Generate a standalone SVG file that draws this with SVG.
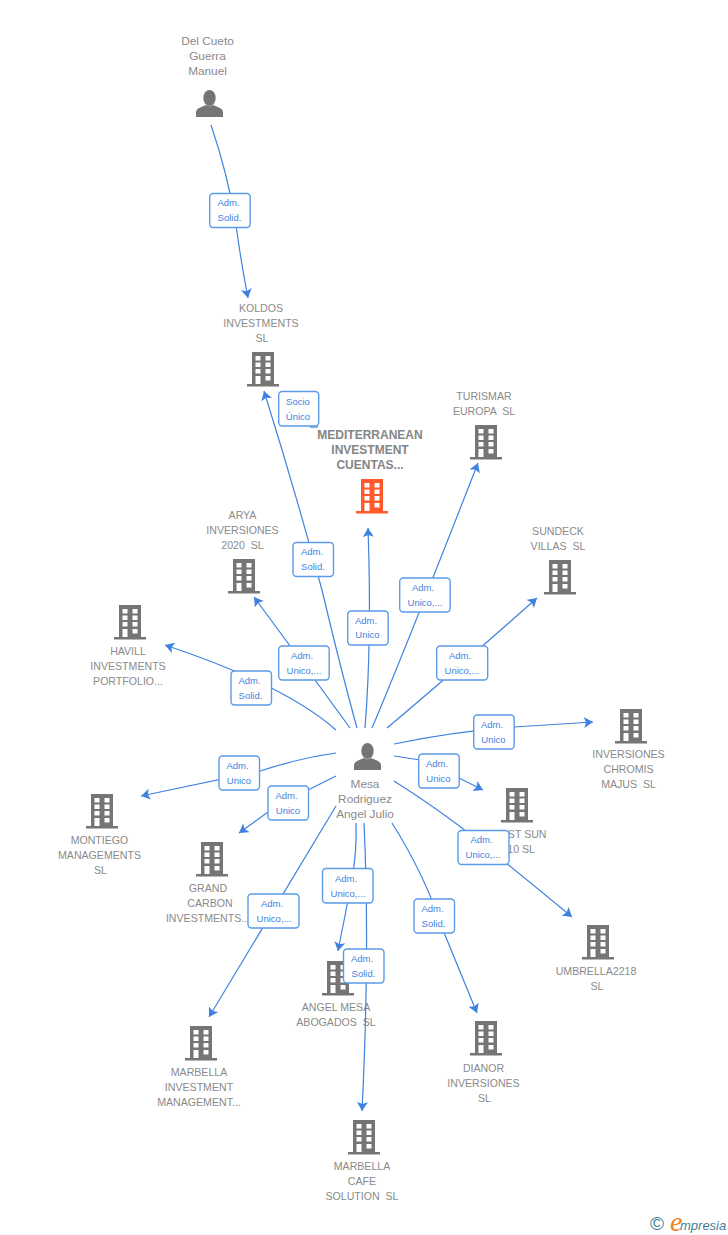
<svg xmlns="http://www.w3.org/2000/svg" width="728" height="1235" viewBox="0 0 728 1235">
<style>
text{font-family:"Liberation Sans",Arial,sans-serif;white-space:pre}
.n{font-size:10.6px;fill:#8a8a8a;text-anchor:middle}
.p{font-size:11.8px;fill:#8a8a8a;text-anchor:middle}
.t{font-size:12px;font-weight:bold;fill:#858585;text-anchor:middle}
.e{text-anchor:end}
.c{fill:none;stroke:#3f82e0;stroke-width:1.2;marker-end:url(#a)}
.s{fill:none;stroke:#3f82e0;stroke-width:1.2}
.b{fill:#fff;stroke:#5b9be8;stroke-width:1.4}
.l{font-size:9.5px;fill:#3f82e0;text-anchor:middle}
</style>
<defs>
<marker id="a" markerUnits="userSpaceOnUse" markerWidth="12" markerHeight="13" refX="9" refY="5.500" orient="auto"><path d="M0 0L9 5.500L0 11L2 5.500Z" fill="#3f82e0"/></marker>
<symbol id="bld" overflow="visible"><path fill-rule="evenodd" d="M0 0H22V32H27V34.500H-5V32H0ZM3.500 4V8.500H8.500V4ZM13.500 4V8.500H18.500V4ZM3.500 10.500V15H8.500V10.500ZM13.500 10.500V15H18.500V10.500ZM3.500 17V21.500H8.500V17ZM13.500 17V21.500H18.500V17ZM3.500 24V32H8.500V24ZM13.500 24V28.500H18.500V24Z"/></symbol>
<symbol id="per" overflow="visible"><ellipse cx="13.500" cy="8" rx="6.200" ry="8"/><path d="M0 27V22.500Q0 19 4 17.500L10 15Q13.500 17.500 17 15L23 17.500Q27 19 27 22.500V27Z"/></symbol>
</defs>
<g id="node-del-cueto"><use href="#per" x="196" y="90" fill="#757575"/><text class="p" x="207.500" y="45">Del Cueto</text><text class="p" x="207.500" y="60">Guerra</text><text class="p" x="207.500" y="75">Manuel</text></g>
<g id="node-koldos"><use href="#bld" x="252" y="352" fill="#757575"/><text class="n" x="261" y="312">KOLDOS</text><text class="n" x="261" y="327">INVESTMENTS</text><text class="n" x="262" y="342">SL</text></g>
<g id="node-mediterranean"><use href="#bld" x="361" y="479" fill="#ff5a2b"/><text class="t" x="370" y="439">MEDITERRANEAN</text><text class="t" x="370" y="454">INVESTMENT</text><text class="t" x="370" y="469">CUENTAS...</text></g>
<g id="node-turismar"><use href="#bld" x="475" y="425" fill="#757575"/><text class="n" x="484" y="400">TURISMAR</text><text class="n" x="484" y="415">EUROPA  SL</text></g>
<g id="node-sundeck"><use href="#bld" x="549" y="560" fill="#757575"/><text class="n" x="558" y="535">SUNDECK</text><text class="n" x="558" y="550">VILLAS  SL</text></g>
<g id="node-arya"><use href="#bld" x="233" y="559" fill="#757575"/><text class="n" x="242.500" y="519">ARYA</text><text class="n" x="242.500" y="534">INVERSIONES</text><text class="n" x="242.500" y="549">2020  SL</text></g>
<g id="node-havill"><use href="#bld" x="119" y="605" fill="#757575"/><text class="n" x="128" y="655">HAVILL</text><text class="n" x="128" y="670">INVESTMENTS</text><text class="n" x="128" y="685">PORTFOLIO...</text></g>
<g id="node-chromis"><use href="#bld" x="620" y="709" fill="#757575"/><text class="n" x="628.500" y="758">INVERSIONES</text><text class="n" x="628.500" y="773">CHROMIS</text><text class="n" x="628.500" y="788">MAJUS  SL</text></g>
<g id="node-sun"><use href="#bld" x="506" y="788" fill="#757575"/><text class="n e" x="546.500" y="838">ST SUN</text><text class="n e" x="535" y="853">10 SL</text></g>
<g id="node-montiego"><use href="#bld" x="91" y="794" fill="#757575"/><text class="n" x="99.500" y="844">MONTIEGO</text><text class="n" x="99.500" y="859">MANAGEMENTS</text><text class="n" x="100.500" y="874">SL</text></g>
<g id="node-grand-carbon"><use href="#bld" x="201" y="842" fill="#757575"/><text class="n" x="208" y="892">GRAND</text><text class="n" x="210" y="907">CARBON</text><text class="n" x="208" y="922">INVESTMENTS...</text></g>
<g id="node-umbrella"><use href="#bld" x="587" y="925" fill="#757575"/><text class="n" x="596" y="975">UMBRELLA2218</text><text class="n" x="597" y="990">SL</text></g>
<g id="node-angel-mesa"><use href="#bld" x="327" y="961" fill="#757575"/><text class="n" x="336" y="1011">ANGEL MESA</text><text class="n" x="336" y="1026">ABOGADOS  SL</text></g>
<g id="node-dianor"><use href="#bld" x="475" y="1021" fill="#757575"/><text class="n" x="483.500" y="1072">DIANOR</text><text class="n" x="483.500" y="1087">INVERSIONES</text><text class="n" x="484.500" y="1102">SL</text></g>
<g id="node-marbella-investment"><use href="#bld" x="190" y="1026" fill="#757575"/><text class="n" x="199" y="1076">MARBELLA</text><text class="n" x="199" y="1091">INVESTMENT</text><text class="n" x="199" y="1106">MANAGEMENT...</text></g>
<g id="node-marbella-cafe"><use href="#bld" x="353" y="1120" fill="#757575"/><text class="n" x="362" y="1170">MARBELLA</text><text class="n" x="362" y="1185">CAFE</text><text class="n" x="362" y="1200">SOLUTION  SL</text></g>
<g id="node-mesa"><use href="#per" x="354" y="743" fill="#757575"/><text class="p" x="365" y="788">Mesa</text><text class="p" x="365" y="803">Rodriguez</text><text class="p" x="365" y="818">Angel Julio</text></g>
<g id="connectors">
<path class="c" d="M211 125Q228 175 236 225Q241 262 248 298"/>
<path class="c" d="M357 728Q341 670 322 590Q295 490 264 391"/>
<path class="s" d="M310 427H318"/>
<path class="c" d="M365 728Q372 640 368 528"/>
<path class="c" d="M372 728Q405 650 478 463"/>
<path class="c" d="M350 728Q308 670 254 597"/>
<path class="c" d="M336 730Q285 685 165 645"/>
<path class="c" d="M387 728Q450 675 537 598"/>
<path class="c" d="M394 744Q450 732 514 727L593 722"/>
<path class="c" d="M394 756L420 760M459 778L483 790"/>
<path class="c" d="M394 781Q440 810 480 842T572 917"/>
<path class="c" d="M336 753Q300 758 260 771L141 796"/>
<path class="c" d="M336 776L308 790M268 812L239 833"/>
<path class="c" d="M336 806L209 1017"/>
<path class="c" d="M356 823Q357 850 352 880L338 951"/>
<path class="c" d="M364 823Q370 950 362 1111"/>
<path class="c" d="M392 823Q425 875 445 935L477 1013"/>
</g>
<g id="edge-labels">
<g><rect class="b" x="209.700" y="193.500" width="40.500" height="34" rx="3.500"/><text class="l" x="228.500" y="206">Adm.</text><text class="l" x="229.500" y="221">Solid.</text></g>
<g><rect class="b" x="278.700" y="391.500" width="40" height="34.500" rx="3.500"/><text class="l" x="298" y="405">Socio</text><text class="l" x="298" y="420">Único</text></g>
<g><rect class="b" x="293" y="542.500" width="40.500" height="34" rx="3.500"/><text class="l" x="312" y="555">Adm.</text><text class="l" x="313" y="570">Solid.</text></g>
<g><rect class="b" x="347.700" y="611" width="40.500" height="34" rx="3.500"/><text class="l" x="366" y="624">Adm.</text><text class="l" x="367.500" y="638">Unico</text></g>
<g><rect class="b" x="399.700" y="578" width="50.500" height="34" rx="3.500"/><text class="l" x="423" y="591">Adm.</text><text class="l" x="425" y="606">Unico,...</text></g>
<g><rect class="b" x="278.700" y="646" width="50.500" height="34" rx="3.500"/><text class="l" x="302" y="659">Adm.</text><text class="l" x="304" y="674">Unico,...</text></g>
<g><rect class="b" x="231" y="671" width="40.500" height="34" rx="3.500"/><text class="l" x="249.500" y="684">Adm.</text><text class="l" x="250.500" y="699">Solid.</text></g>
<g><rect class="b" x="436.700" y="646" width="51" height="34" rx="3.500"/><text class="l" x="460" y="659">Adm.</text><text class="l" x="462" y="674">Unico,...</text></g>
<g><rect class="b" x="473.700" y="715" width="40.500" height="34" rx="3.500"/><text class="l" x="492" y="728">Adm.</text><text class="l" x="493.500" y="743">Unico</text></g>
<g><rect class="b" x="418.700" y="754" width="40.500" height="34" rx="3.500"/><text class="l" x="437" y="767">Adm.</text><text class="l" x="438.500" y="782">Unico</text></g>
<g><rect class="b" x="458" y="830.500" width="51" height="34" rx="3.500"/><text class="l" x="481.500" y="843">Adm.</text><text class="l" x="483" y="858">Unico,...</text></g>
<g><rect class="b" x="219" y="756" width="40.500" height="34" rx="3.500"/><text class="l" x="237.500" y="769">Adm.</text><text class="l" x="239" y="784">Unico</text></g>
<g><rect class="b" x="268" y="786" width="40.500" height="34" rx="3.500"/><text class="l" x="286.500" y="799">Adm.</text><text class="l" x="288" y="814">Unico</text></g>
<g><rect class="b" x="248" y="894" width="51" height="34" rx="3.500"/><text class="l" x="272" y="907">Adm.</text><text class="l" x="274" y="922">Unico,...</text></g>
<g><rect class="b" x="322.500" y="868.500" width="50.500" height="34.500" rx="3.500"/><text class="l" x="346" y="882">Adm.</text><text class="l" x="348" y="897">Unico,...</text></g>
<g><rect class="b" x="343.500" y="949" width="40.500" height="34" rx="3.500"/><text class="l" x="362" y="962">Adm.</text><text class="l" x="363.500" y="977">Solid.</text></g>
<g><rect class="b" x="414" y="899" width="40.500" height="34" rx="3.500"/><text class="l" x="432.500" y="912">Adm.</text><text class="l" x="433.500" y="927">Solid.</text></g>
</g>
<g id="logo"><text x="650" y="1230" font-size="19" fill="#3f7f96">©</text><text x="670" y="1231" font-size="28" font-style="italic" fill="#f08020" style="font-family:'Liberation Serif',serif">e</text><text x="680" y="1230" font-size="13" font-style="italic" fill="#3f7f96">mpresia</text></g>
</svg>
